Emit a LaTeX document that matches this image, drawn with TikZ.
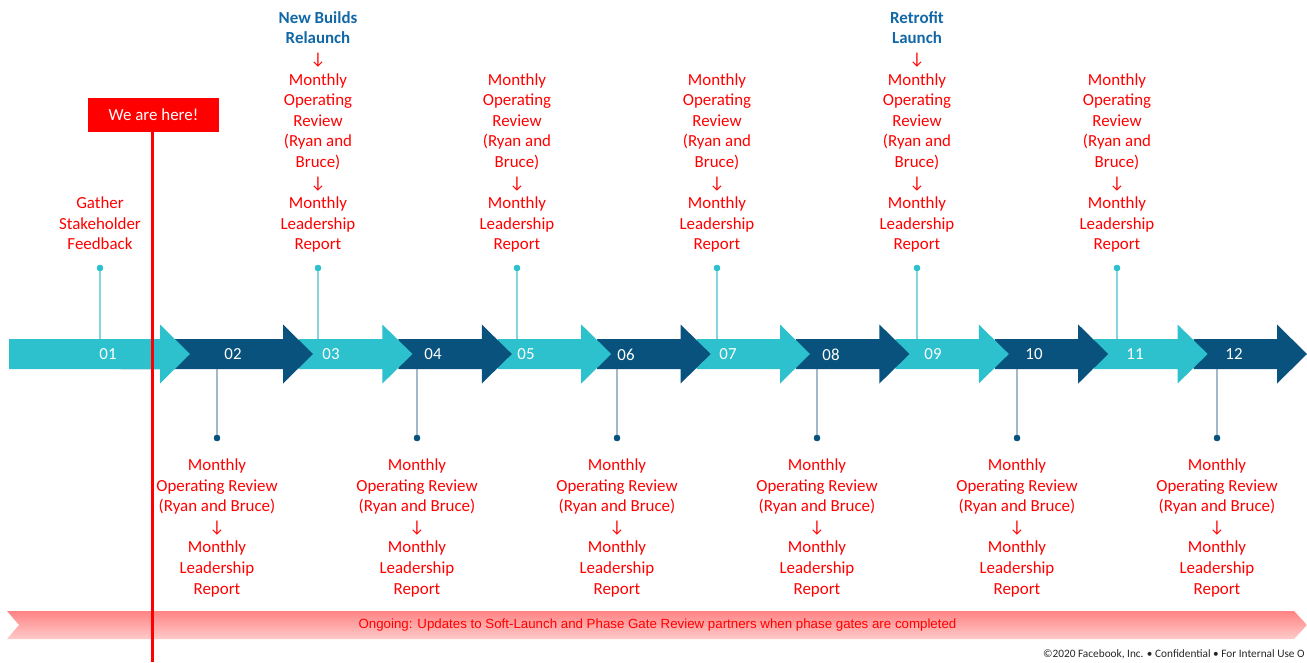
\documentclass[tikz,border=0pt]{standalone}
\usepackage{fontspec}
\setmainfont{Carlito}
\newfontfamily\dvs{DejaVu Sans}
\newfontfamily\lsans{Liberation Sans}
\definecolor{tl}{RGB}{45,192,205}
\definecolor{dk}{RGB}{8,82,125}
\definecolor{redtxt}{RGB}{255,0,0}
\definecolor{hdr}{RGB}{18,104,166}
\definecolor{upln}{RGB}{134,213,221}
\definecolor{dnln}{RGB}{159,185,203}
\definecolor{bandtop}{RGB}{255,132,132}
\definecolor{bandbot}{RGB}{255,202,202}
\newcommand\dnarr{{\fontsize{16.9}{20.6}\selectfont ↓}}
\newcommand\topstrut{\rule{0pt}{14pt}}
\newcommand\botstrut{\rule[-5pt]{0pt}{5pt}}
\begin{document}
\begin{tikzpicture}[x=1pt,y=-1pt,
  lbl/.style={font=\fontsize{16.9}{20.6}\selectfont, text=white, inner sep=0},
  redtext/.style={font=\fontsize{16.9}{20.6}\selectfont, text=redtxt, align=center, inner sep=0},
  tdot/.style={circle, fill=tl, minimum size=6.4pt, inner sep=0},
  ddot/.style={circle, fill=dk, minimum size=6.4pt, inner sep=0},
  upline/.style={draw=upln, line width=1.1pt},
  dnline/.style={draw=dnln, line width=1.1pt}]
\useasboundingbox (0,0) rectangle (1307,662);

% connectors (drawn before arrows so that arrows cover their ends)
\foreach \x/\n in {100/1,318/3,517/5,717/7,917/9,1117/11}{
  \coordinate (ut\n) at (\x,340);
  \node[tdot] (ud\n) at (\x,268) {};
  \draw[upline] (ud\n) -- (ut\n);
  \node[tdot] at (ud\n) {};
}
\foreach \x/\n in {217/2,417/4,617/6,817/8,1017/10,1217/12}{
  \coordinate (dt\n) at (\x,368);
  \node[ddot] (dd\n) at (\x,438) {};
  \draw[dnline] (dt\n) -- (dd\n);
  \node[ddot] at (dd\n) {};
}

% arrows, last one first so that earlier heads lie on top
\foreach \s/\t/\c in {1193.6/1307/dk,1094.2/1207.6/tl,994.8/1108.2/dk,895.4/1008.8/tl,
  796/909.4/dk,696.6/810/tl,597.2/710.6/dk,497.8/611.2/tl,398.4/511.8/dk,299/412.4/tl,
  121/313/dk,9/190/tl}{
  \fill[\c] (\s,339) -- (\t-30,339) -- (\t-30,324.5) -- (\t,354) -- (\t-30,383.5)
     -- (\t-30,369) -- (\s,369) -- cycle;
}

% number labels
\foreach \x/\n in {108/01,233/02,331/03,433/04,526/05,626/06,728/07,831/08,933/09,1034/10,1135/11,1234/12}{
  \node[lbl] (lab\n) at (\x,354.5) {\n};
}

% top texts
\node[redtext, anchor=south] (t1) at (100,255)
  {\topstrut Gather\\Stakeholder\\Feedback\botstrut};
\node[redtext, anchor=south] (t3) at (318,255)
  {\topstrut{\bfseries\color{hdr}New Builds}\\{\bfseries\color{hdr}Relaunch}\\\dnarr\\Monthly\\Operating\\Review\\(Ryan and\\Bruce)\\\dnarr\\Monthly\\Leadership\\Report\botstrut};
\node[redtext, anchor=south] (t9) at (917,255)
  {\topstrut{\bfseries\color{hdr}Retrofit}\\{\bfseries\color{hdr}Launch}\\\dnarr\\Monthly\\Operating\\Review\\(Ryan and\\Bruce)\\\dnarr\\Monthly\\Leadership\\Report\botstrut};
\foreach \x/\n in {517/5,717/7,1117/11}{
  \node[redtext, anchor=south] (t\n) at (\x,255)
    {\topstrut Monthly\\Operating\\Review\\(Ryan and\\Bruce)\\\dnarr\\Monthly\\Leadership\\Report\botstrut};
}

% bottom texts
\foreach \x/\n in {217/2,417/4,617/6,817/8,1017/10,1217/12}{
  \node[redtext, anchor=north] (b\n) at (\x,456.2)
    {\topstrut Monthly\\Operating Review\\(Ryan and Bruce)\\\dnarr\\Monthly\\Leadership\\Report};
}

% ongoing band
\shade[top color=bandtop, bottom color=bandbot]
  (7,611) -- (1294,611) -- (1307,625) -- (1294,639) -- (7,639) -- (19,625) -- cycle;
\node[font=\lsans\fontsize{13.3}{16}\selectfont, text=redtxt, inner sep=0] (band) at (657.5,625.5)
  {Ongoing: Updates to Soft-Launch and Phase Gate Review partners when phase gates are completed};

% footer
\node[anchor=west, font=\fontsize{11.3}{13}\selectfont, text=black!85, inner sep=0] (foot) at (1043,654)
  {©2020 Facebook, Inc. • Confidential • For Internal Use O};

% we are here
\node[fill=redtxt, text=white, minimum width=131pt, minimum height=34pt, inner sep=0,
  font=\fontsize{16.9}{20.6}\selectfont] (here) at (153.5,114.5) {We are here!};
\coordinate (lineend) at (152,662);
\draw[redtxt, line width=3pt] (here.south -| lineend) -- (lineend);
\end{tikzpicture}
\end{document}
